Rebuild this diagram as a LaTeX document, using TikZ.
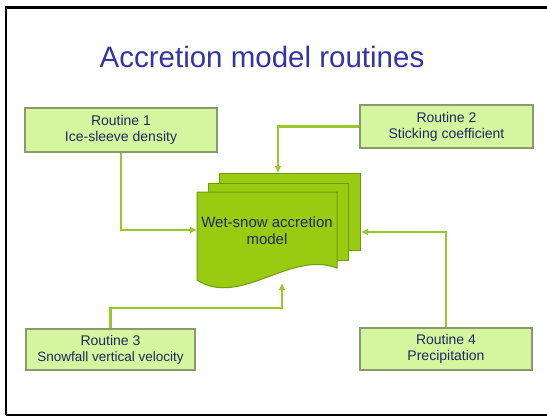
\documentclass[tikz,border=0pt]{standalone}
\usepackage{fontspec}
\setmainfont{Liberation Sans}
\usetikzlibrary{arrows.meta}
\definecolor{boxfill}{HTML}{D5F59E}
\definecolor{boxedge}{HTML}{8A9A70}
\definecolor{docfill}{HTML}{99CC11}
\definecolor{docedge}{HTML}{6E9A10}
\definecolor{conn}{HTML}{99C82A}
\definecolor{navy}{HTML}{1E2A5E}
\definecolor{titleblue}{HTML}{3434A4}
\tikzset{
  routine/.style={draw=boxedge, line width=1.4pt, fill=boxfill, inner sep=0pt, align=center,
    text=navy, font=\fontsize{14}{16}\selectfont},
  sheet/.style={draw=docedge, line width=1pt, fill=docfill},
  conn/.style={draw=conn, line width=2.4pt, -{Latex[length=7pt,width=7pt]}},
  frame/.style={line width=2.2pt, draw=black}
}
\begin{document}
\begin{tikzpicture}[x=1pt,y=-1pt]
\useasboundingbox (0,0) rectangle (547,416);
\fill[white] (0,0) rectangle (547,416);
% frame
\draw[frame] (6,415) -- (6,7.5) -- (560,7.5);
\draw[frame] (6,415) -- (560,415);
% title
\node[text=titleblue, font=\fontsize{29.5}{32}\selectfont] (title) at (262,57) {Accretion model routines};
% routine boxes
\node[routine, minimum width=192pt, minimum height=44pt] (r1) at (121,130) {Routine 1\\Ice-sleeve density};
\node[routine, minimum width=173pt, minimum height=43pt] (r2) at (446.5,126.5) {Routine 2\\Sticking coefficient};
\node[routine, minimum width=169pt, minimum height=41pt] (r3) at (110.5,349.5) {Routine 3\\{\fontsize{13.5}{16}\selectfont Snowfall vertical velocity}};
\node[routine, minimum width=172pt, minimum height=42pt] (r4) at (446,349) {Routine 4\\Precipitation};
% document stack
\draw[sheet] (219,173) rectangle (360,250);
\draw[sheet] (208,183) rectangle (348,260);
\draw[sheet] (197,192) -- (337,192) -- (337,268)
  .. controls (290,250) and (240,308) .. (197,280) -- cycle;
\node[text=navy, align=center, font=\fontsize{15}{17}\selectfont, inner sep=0pt] (doc) at (267,231) {Wet-snow accretion\\model};
% arrow end points
\coordinate (inleft) at (197,230);
\coordinate (intop) at (278,173);
\coordinate (inbottom) at (282,283);
\coordinate (inright) at (361,232);
% connectors
\draw[conn] (r1.south) |- (inleft);
\draw[conn] (r2.west) -| (intop);
\draw[conn] (r3.north) |- (282,308) -- (inbottom);
\draw[conn] (r4.north) |- (inright);
\end{tikzpicture}
\end{document}
